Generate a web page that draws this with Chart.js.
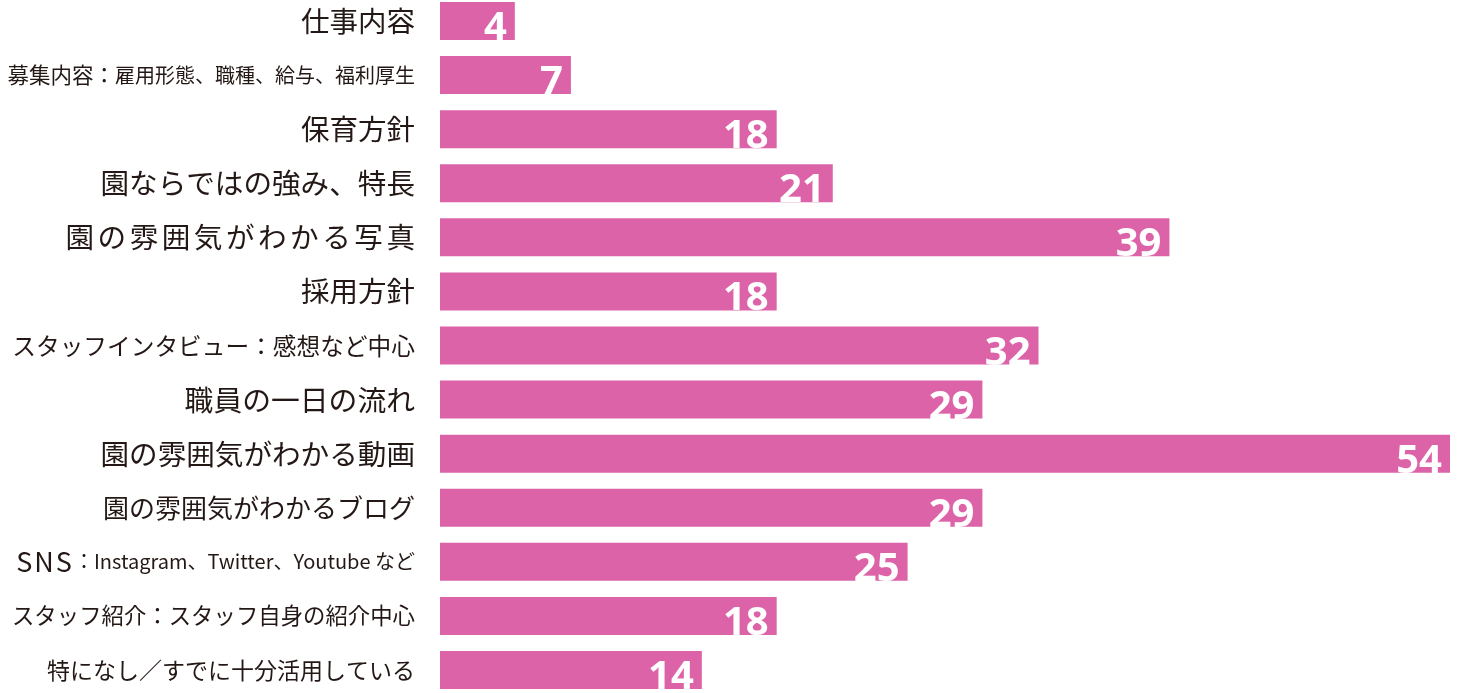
<!DOCTYPE html>
<html>
<head>
<meta charset="utf-8">
<script src="https://cdn.jsdelivr.net/npm/chart.js@4/dist/chart.umd.min.js"></script>
<style>
    html, body { margin: 0; padding: 0; background: #fff; overflow: hidden; }
    #wrap { position: relative; width: 1462px; height: 703px; margin-top: -6px; }
</style>
</head>
<body>
<div id="wrap"><canvas id="surveyChart"></canvas></div>
<script>
const categories = [
    '仕事内容',
    '募集内容：雇用形態、職種、給与、福利厚生',
    '保育方針',
    '園ならではの強み、特長',
    '園の雰囲気がわかる写真',
    '採用方針',
    'スタッフインタビュー：感想など中心',
    '職員の一日の流れ',
    '園の雰囲気がわかる動画',
    '園の雰囲気がわかるブログ',
    'SNS：Instagram、Twitter、Youtube など',
    'スタッフ紹介：スタッフ自身の紹介中心',
    '特になし／すでに十分活用している'
];
const counts = [4, 7, 18, 21, 39, 18, 32, 29, 54, 29, 25, 18, 14];

// font size per label (lead = number of leading chars drawn at leadSize)
const labelStyles = [
    { size: 28.5 },
    { size: 20, lead: 5, leadSize: 21.5 },
    { size: 28.5 },
    { size: 28.6 },
    { size: 28.6, spacing: 3.5 },
    { size: 28.5 },
    { size: 23.7 },
    { size: 28.8 },
    { size: 28.6 },
    { size: 26 },
    { size: 20, lead: 3, leadSize: 27, leadSpacing: 2 },
    { size: 22.4 },
    { size: 23 }
];

const FONT = '"Noto Sans CJK JP", "Noto Sans", sans-serif';

// draws category labels right aligned left of the bars
const labelPlugin = {
    id: 'labels',
    afterDraw(chart) {
        const ctx = chart.ctx;
        const y = chart.scales.y;
        const right = chart.chartArea.left - 25;
        ctx.save();
        ctx.fillStyle = '#231815';
        ctx.textBaseline = 'middle';
        ctx.textAlign = 'right';
        categories.forEach((text, i) => {
            const st = labelStyles[i];
            const cy = y.getPixelForValue(i);
            const lead = st.lead ? text.slice(0, st.lead) : '';
            const tail = st.lead ? text.slice(st.lead) : text;
            ctx.font = `${st.size}px ${FONT}`;
            ctx.letterSpacing = (st.spacing || 0) + 'px';
            ctx.fillText(tail, right + (st.spacing || 0), cy);
            const w = ctx.measureText(tail).width;
            if (lead) {
                ctx.font = `${st.leadSize}px ${FONT}`;
                ctx.letterSpacing = (st.leadSpacing || 0) + 'px';
                ctx.fillText(lead, right - w, cy);
            }
        });
        ctx.restore();
    }
};

// white value numbers at the bar ends
const valuePlugin = {
    id: 'values',
    afterDatasetsDraw(chart) {
        const ctx = chart.ctx;
        const meta = chart.getDatasetMeta(0);
        ctx.save();
        ctx.fillStyle = '#ffffff';
        ctx.font = 'bold 40px "Noto Sans", "Open Sans", sans-serif';
        ctx.textAlign = 'right';
        ctx.textBaseline = 'alphabetic';
        meta.data.forEach((bar, i) => {
            const bottom = bar.y + bar.height / 2;
            ctx.fillText(String(counts[i]), bar.x - 8, bottom);
        });
        ctx.restore();
    }
};

new Chart(document.getElementById('surveyChart'), {
    type: 'bar',
    data: {
        labels: categories,
        datasets: [{
            data: counts,
            backgroundColor: '#dc63a8',
            borderWidth: 0,
            barPercentage: 0.703,
            categoryPercentage: 1.0
        }]
    },
    options: {
        indexAxis: 'y',
        responsive: true,
        maintainAspectRatio: false,
        animation: false,
        layout: { padding: { left: 440, right: 12, top: 0, bottom: 0 } },
        scales: {
            x: { display: false, min: 0, max: 54 },
            y: { display: false }
        },
        plugins: {
            legend: { display: false },
            tooltip: { enabled: false }
        }
    },
    plugins: [labelPlugin, valuePlugin]
});
</script>
</body>
</html>
